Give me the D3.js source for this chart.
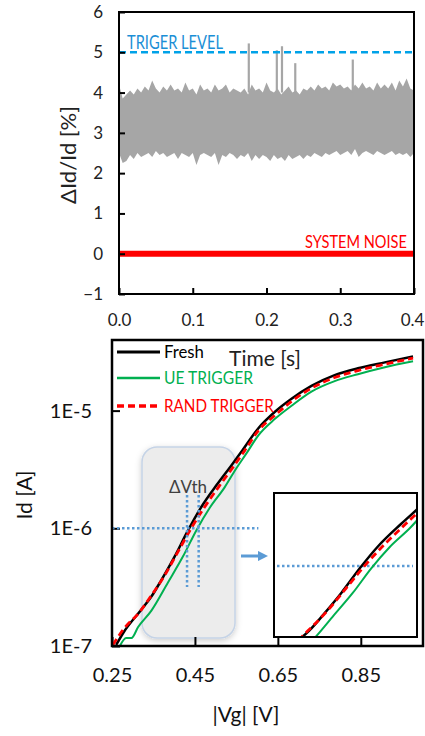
<!DOCTYPE html>
<html>
<head>
<meta charset="utf-8">
<script src="https://cdn.jsdelivr.net/npm/d3@7"></script>
<style>
  body { margin: 0; background: #fff; }
  svg text { font-family: Lato, "Open Sans", sans-serif; }
</style>
</head>
<body>
<div class="chart"></div>
<script>
// ---- top panel: dId/Id noise vs time ----
const noiseStep = 0.005;  // s between envelope samples
const noiseUpper = [4.2,3.85,3.95,4.05,3.95,4.1,4.0,4.15,4.05,4.3,4.1,4.0,4.15,4.05,4.2,4.05,4.1,4.0,4.25,4.05,
  4.1,3.95,4.2,4.05,4.1,4.0,4.2,4.05,4.1,4.2,4.0,4.1,4.05,4.0,4.1,3.95,4.2,4.05,4.1,4.0,
  4.25,4.05,4.0,4.1,3.95,4.05,4.15,4.0,4.05,3.95,4.1,4.05,4.15,4.05,4.2,4.1,4.15,4.05,4.25,4.15,
  4.2,4.1,4.15,4.05,4.2,4.1,4.25,4.1,4.15,4.05,4.25,4.1,4.2,4.1,4.25,4.05,4.3,4.15,4.35,4.1,4.05];
const noiseLower = [2.5,2.25,2.3,2.45,2.35,2.5,2.4,2.45,2.5,2.4,2.55,2.45,2.5,2.4,2.45,2.5,2.35,2.5,2.45,2.4,
  2.5,2.2,2.45,2.5,2.45,2.4,2.5,2.2,2.45,2.4,2.5,2.45,2.35,2.45,2.4,2.5,2.3,2.45,2.35,2.45,
  2.4,2.3,2.45,2.35,2.4,2.3,2.45,2.35,2.4,2.45,2.35,2.45,2.4,2.5,2.45,2.4,2.5,2.45,2.5,2.55,
  2.45,2.5,2.55,2.45,2.6,2.4,2.5,2.55,2.5,2.45,2.55,2.5,2.45,2.5,2.55,2.45,2.5,2.45,2.5,2.4,2.5];
const spikeT = [0.176, 0.214, 0.221, 0.239, 0.317];
const spikeV = [5.22, 5.05, 5.15, 4.73, 4.82];
const triggerLevel = 5;
const systemNoise = 0;
const timeTicks = [0, 0.1, 0.2, 0.3, 0.4];
const pctTicks = [-1, 0, 1, 2, 3, 4, 5, 6];

// ---- bottom panel: Id-Vg ----
const vgFresh = [0.260,0.277,0.321,0.345,0.369,0.401,0.433,0.465,0.505,0.537,0.562,0.603,0.643,0.683,0.731,0.787,0.843,0.908,0.976];
const idFresh = [1.02e-7,1.29e-7,2.04e-7,2.63e-7,3.63e-7,5.75e-7,9.55e-7,1.51e-6,2.40e-6,3.39e-6,4.47e-6,7.08e-6,9.77e-6,1.26e-5,1.62e-5,2.00e-5,2.29e-5,2.57e-5,2.88e-5];
const vgUE = [0.269,0.284,0.297,0.313,0.345,0.385,0.421,0.453,0.485,0.522,0.548,0.575,0.603,0.643,0.683,0.731,0.787,0.843,0.908,0.976];
const idUE = [1.00e-7,1.17e-7,1.17e-7,1.45e-7,2.00e-7,3.47e-7,5.75e-7,9.55e-7,1.48e-6,2.24e-6,3.16e-6,4.37e-6,6.17e-6,8.51e-6,1.10e-5,1.45e-5,1.78e-5,2.04e-5,2.34e-5,2.63e-5];
const vgRand = [0.252,0.277,0.317,0.337,0.377,0.409,0.441,0.473,0.513,0.542,0.570,0.603,0.643,0.683,0.731,0.787,0.843,0.908,0.976];
const idRand = [1.02e-7,1.38e-7,1.95e-7,2.45e-7,3.98e-7,6.31e-7,1.00e-6,1.51e-6,2.40e-6,3.31e-6,4.57e-6,6.76e-6,9.12e-6,1.20e-5,1.55e-5,1.91e-5,2.19e-5,2.48e-5,2.79e-5];
const seriesNames = ["Fresh", "UE TRIGGER", "RAND TRIGGER"];
const vgTicks = [0.25, 0.45, 0.65, 0.85];
const idTicks = [1e-7, 1e-6, 1e-5];
const idTickLabels = ["1E-7", "1E-6", "1E-5"];
const vthMarks = [0.431, 0.459];   // dVth guide lines
const vthLevel = 1e-6;

const W = 425, H = 736;
const blue = "#5b9bd5";

const svg = d3.select(".chart").append("svg")
    .attr("width", W).attr("height", H);

const defs = svg.append("defs");
defs.append("filter").attr("id", "shadow")
    .attr("x", "-20%").attr("y", "-20%").attr("width", "140%").attr("height", "140%")
  .append("feDropShadow")
    .attr("dx", 0).attr("dy", 2).attr("stdDeviation", 3)
    .attr("flood-color", "#000").attr("flood-opacity", 0.2);
defs.append("marker").attr("id", "arrow")
    .attr("viewBox", "0 0 10 10").attr("refX", 5).attr("refY", 5)
    .attr("markerWidth", 3.4).attr("markerHeight", 3.4).attr("orient", "auto")
  .append("path").attr("d", "M0,0L10,5L0,10z").attr("fill", blue);

// label squeezed horizontally to the width it has in the picture (narrow font look)
const narrowText = (g, str, x, y, w, size, color) => {
  const t = g.append("text").text(str).attr("font-size", size).attr("fill", color);
  const k = w / t.node().getComputedTextLength();
  t.attr("transform", "translate(" + x + "," + y + ") scale(" + k + ",1)");
  return t;
};

// ===================== top panel =====================
const x1 = d3.scaleLinear().domain([0, 0.4]).range([119, 414]);
const y1 = d3.scaleLinear().domain([-1, 6]).range([294, 12]);

const topG = svg.append("g");

const band = noiseUpper.map((u, i) => ({t: i * noiseStep, hi: u, lo: noiseLower[i]}));
topG.append("path").datum(band)
    .attr("fill", "#a6a6a6")
    .attr("d", d3.area().x(d => x1(d.t)).y0(d => y1(d.lo)).y1(d => y1(d.hi)));

topG.selectAll(".spike").data(spikeT).enter().append("line")
    .attr("x1", d => x1(d)).attr("x2", d => x1(d))
    .attr("y1", y1(4)).attr("y2", (d, i) => y1(spikeV[i]))
    .attr("stroke", "#a6a6a6").attr("stroke-width", 2.2);

topG.append("line")
    .attr("x1", x1(0)).attr("x2", x1(0.4))
    .attr("y1", y1(triggerLevel)).attr("y2", y1(triggerLevel))
    .attr("stroke", "#00a2e8").attr("stroke-width", 2.5)
    .attr("stroke-dasharray", "7,4");
narrowText(topG, "TRIGER LEVEL", 127, 49, 96, 19, "#1b8fd6");

topG.append("line")
    .attr("x1", x1(0)).attr("x2", x1(0.4))
    .attr("y1", y1(systemNoise)).attr("y2", y1(systemNoise))
    .attr("stroke", "#ff0000").attr("stroke-width", 6);
narrowText(topG, "SYSTEM NOISE", 305, 248, 102, 18, "#ff0000");

topG.append("rect")
    .attr("x", 119).attr("y", 12).attr("width", 295).attr("height", 282)
    .attr("fill", "none").attr("stroke", "#000").attr("stroke-width", 2);

const xAxis1 = topG.append("g").attr("transform", "translate(0,294)")
    .call(d3.axisBottom(x1).tickValues(timeTicks).tickSizeInner(-6).tickSizeOuter(0)
        .tickPadding(20).tickFormat(d3.format(".1f")));
const yAxis1 = topG.append("g").attr("transform", "translate(119,0)")
    .call(d3.axisLeft(y1).tickValues(pctTicks).tickSizeInner(-6).tickSizeOuter(0)
        .tickPadding(16).tickFormat(d3.format("d")));
[xAxis1, yAxis1].forEach(a => {
  a.select(".domain").remove();
  a.selectAll(".tick line").attr("stroke", "#000").attr("stroke-width", 2);
  a.selectAll("text").attr("font-size", 17).attr("fill", "#222")
      .style("font-family", "Lato, sans-serif");
});
// last time label sits against the right edge
xAxis1.selectAll(".tick text").filter(d => d === 0.4).attr("dx", -2);

topG.append("text").text("ΔId/Id [%]")
    .attr("transform", "translate(76,155) rotate(-90)")
    .attr("text-anchor", "middle").attr("font-size", 22).attr("fill", "#222");
topG.append("text").text("Time [s]")
    .attr("x", 265).attr("y", 366).attr("text-anchor", "middle")
    .attr("font-size", 21).attr("fill", "#222");

// ===================== bottom panel =====================
const x2 = d3.scaleLinear().domain([0.25, 1.0]).range([112, 423]);
const y2 = d3.scaleLog().domain([1e-7, Math.pow(10, -4.4)]).range([646, 340]);

const botG = svg.append("g");
defs.append("clipPath").attr("id", "clipMain")
  .append("rect").attr("x", 112).attr("y", 340).attr("width", 311).attr("height", 306);

const series = [
  {name: seriesNames[0], vg: vgFresh, id: idFresh, color: "#000", width: 2.5, dash: null, w: 40},
  {name: seriesNames[1], vg: vgUE, id: idUE, color: "#00b050", width: 2, dash: null, w: 89},
  {name: seriesNames[2], vg: vgRand, id: idRand, color: "#ff0000", width: 2.8, dash: "7,4", w: 110}
];

// dVth highlight box
botG.append("rect")
    .attr("x", 142).attr("y", 447).attr("width", 93).attr("height", 191).attr("rx", 15)
    .attr("fill", "#ececec").attr("stroke", "#c5d3e6").attr("stroke-width", 1.5)
    .attr("filter", "url(#shadow)");

const xAxis2 = botG.append("g").attr("transform", "translate(0,646)")
    .call(d3.axisBottom(x2).tickValues(vgTicks).tickSizeInner(-9).tickSizeOuter(0)
        .tickPadding(22).tickFormat(d3.format(".2f")));
const yAxis2 = botG.append("g").attr("transform", "translate(112,0)")
    .call(d3.axisLeft(y2).tickValues(idTicks).tickSizeInner(-8).tickSizeOuter(0)
        .tickPadding(20).tickFormat((d, i) => idTickLabels[i]));
[xAxis2, yAxis2].forEach(a => {
  a.select(".domain").remove();
  a.selectAll(".tick line").attr("stroke", "#000").attr("stroke-width", 2);
  a.selectAll("text").attr("font-size", 20).attr("fill", "#111")
      .style("font-family", "Lato, sans-serif");
});

const line2 = (xs, ys) => d3.line()
    .x(d => xs(d.v)).y(d => ys(d.i))
    .curve(d3.curveMonotoneX);

const main = botG.append("g").attr("clip-path", "url(#clipMain)");
series.forEach(s => {
  main.append("path")
      .datum(s.vg.map((v, i) => ({v: v, i: s.id[i]})))
      .attr("fill", "none").attr("stroke", s.color).attr("stroke-width", s.width)
      .attr("stroke-dasharray", s.dash)
      .attr("d", line2(x2, y2));
});

// dVth guides
botG.append("line")
    .attr("x1", 112).attr("x2", x2(0.603)).attr("y1", y2(vthLevel)).attr("y2", y2(vthLevel))
    .attr("stroke", blue).attr("stroke-width", 2.5).attr("stroke-dasharray", "2.5,2.5");
botG.selectAll(".vth").data(vthMarks).enter().append("line")
    .attr("x1", d => x2(d)).attr("x2", d => x2(d))
    .attr("y1", 495).attr("y2", 587)
    .attr("stroke", blue).attr("stroke-width", 2.5).attr("stroke-dasharray", "2.5,2.5");
botG.append("text").text("ΔVth")
    .attr("x", 188).attr("y", 493).attr("text-anchor", "middle")
    .attr("font-size", 17).attr("fill", "#404040");

// arrow to inset
botG.append("line")
    .attr("x1", 241).attr("x2", 263).attr("y1", 556).attr("y2", 556)
    .attr("stroke", blue).attr("stroke-width", 3).attr("marker-end", "url(#arrow)");

// inset (zoom of the dVth region)
const xi = d3.scaleLinear().domain([0.283, 0.533]).range([274, 417]);
const yi = d3.scaleLog().domain([Math.pow(10, -6.64), Math.pow(10, -5.34)]).range([637, 493]);
defs.append("clipPath").attr("id", "clipInset")
  .append("rect").attr("x", 274).attr("y", 493).attr("width", 143).attr("height", 144);
botG.append("rect")
    .attr("x", 274).attr("y", 493).attr("width", 143).attr("height", 144)
    .attr("fill", "#fff");
const inset = botG.append("g").attr("clip-path", "url(#clipInset)");
inset.append("line")
    .attr("x1", 277).attr("x2", 413).attr("y1", yi(vthLevel)).attr("y2", yi(vthLevel))
    .attr("stroke", blue).attr("stroke-width", 2.5).attr("stroke-dasharray", "2.5,2.5");
series.forEach(s => {
  inset.append("path")
      .datum(s.vg.map((v, i) => ({v: v, i: s.id[i]})))
      .attr("fill", "none").attr("stroke", s.color).attr("stroke-width", s.width)
      .attr("stroke-dasharray", s.dash)
      .attr("d", line2(xi, yi));
});
botG.append("rect")
    .attr("x", 274).attr("y", 493).attr("width", 143).attr("height", 144)
    .attr("fill", "none").attr("stroke", "#000").attr("stroke-width", 2);

// frame
botG.append("rect")
    .attr("x", 112).attr("y", 340).attr("width", 311).attr("height", 306)
    .attr("fill", "none").attr("stroke", "#000").attr("stroke-width", 2.5);

// legend
const legY = [352, 378, 406];
series.forEach((s, i) => {
  botG.append("line")
      .attr("x1", 117).attr("x2", 160).attr("y1", legY[i]).attr("y2", legY[i])
      .attr("stroke", s.color).attr("stroke-width", s.width + 0.5)
      .attr("stroke-dasharray", s.dash);
  narrowText(botG, s.name, 164, legY[i] + 6, s.w, 17, s.color);
});

botG.append("text").text("Id [A]")
    .attr("transform", "translate(32,495) rotate(-90)")
    .attr("text-anchor", "middle").attr("font-size", 21).attr("fill", "#111");
botG.append("text").text("|Vg| [V]")
    .attr("x", 246).attr("y", 722).attr("text-anchor", "middle")
    .attr("font-size", 21).attr("fill", "#111");
</script>
</body>
</html>
